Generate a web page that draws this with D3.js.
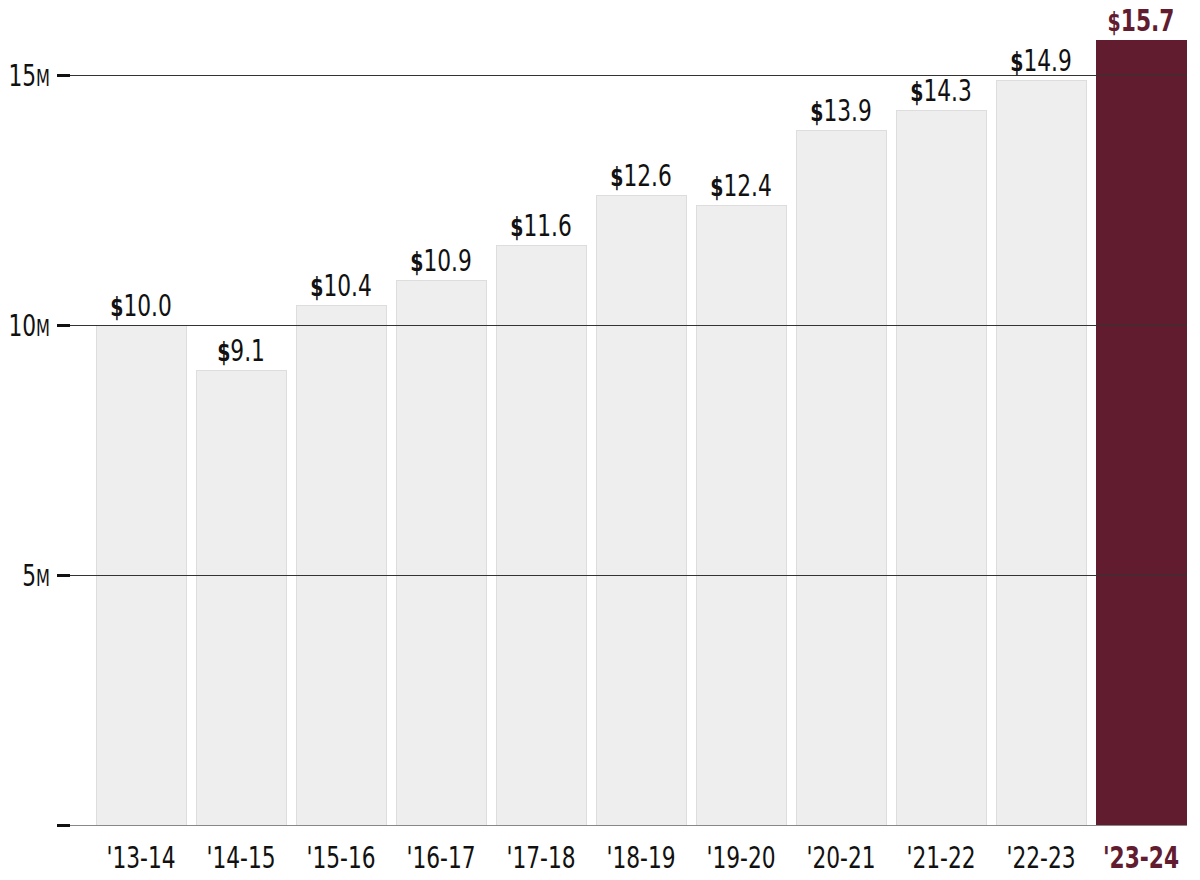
<!DOCTYPE html>
<html><head><meta charset="utf-8">
<script src="https://cdn.jsdelivr.net/npm/d3@7"></script>
<style>
html,body{margin:0;padding:0;background:#fff;}
text{font-family:"DejaVu Sans Condensed","Liberation Sans Narrow",sans-serif;}
</style></head>
<body>
<svg id="chart" width="1200" height="880"></svg>
<script>
const categories = ["'13-14","'14-15","'15-16","'16-17","'17-18","'18-19","'19-20","'20-21","'21-22","'22-23","'23-24"];
const values = [10.0, 9.1, 10.4, 10.9, 11.6, 12.6, 12.4, 13.9, 14.3, 14.9, 15.7];
const yTicks = [0, 5, 10, 15];
const yTickLabels = ["", "5", "10", "15"];
const highlightIndex = 10;

const svg = d3.select("#chart");
const maroon = "#621c30";
const sx = 0.78;
const x = d3.scaleBand().domain(categories).range([91, 1191]).paddingInner(0.1).paddingOuter(0.05);
const y = d3.scaleLinear().domain([0, 15]).range([825, 75]);

// bars
svg.append("g").selectAll("rect").data(values).join("rect")
  .attr("x", (d,i) => x(categories[i]))
  .attr("y", d => y(d))
  .attr("width", x.bandwidth())
  .attr("height", d => y(0) - y(d))
  .attr("fill", (d,i) => i === highlightIndex ? maroon : "#eeeeee")
  .attr("stroke", (d,i) => i === highlightIndex ? maroon : "#dddddd")
  .attr("stroke-width", 1)
  .attr("shape-rendering", "crispEdges");

// gridlines
const grid = svg.append("g");
grid.selectAll("line").data(yTicks).join("line")
  .attr("x1", 70).attr("x2", 1187)
  .attr("y1", d => Math.round(y(d)) + 0.5).attr("y2", d => Math.round(y(d)) + 0.5)
  .attr("stroke", d => d === 0 ? "#888" : "#333")
  .attr("stroke-width", 1);

// tick marks
grid.append("g").selectAll("rect").data(yTicks).join("rect")
  .attr("x", 57).attr("width", 13)
  .attr("y", d => Math.round(y(d)) - 1).attr("height", 3)
  .attr("fill", "#111");

// y labels
const yl = svg.append("g").selectAll("g").data(yTicks).join("g")
  .attr("transform", d => `translate(50,${y(d) + 11}) scale(${sx},1)`)
  .append("text")
  .attr("text-anchor", "end")
  .attr("fill", "#111")
  .attr("font-size", 31);
yl.each(function(d, i) {
  if (!yTickLabels[i]) return;
  const t = d3.select(this);
  t.append("tspan").text(yTickLabels[i]);
  t.append("tspan").attr("font-size", 23).text("M");
});

// value labels
const vl = svg.append("g").selectAll("g").data(values).join("g")
  .attr("transform", (d,i) => `translate(${x(categories[i]) + x.bandwidth()/2},${y(d) - 9}) scale(${sx},1)`)
  .append("text")
  .attr("text-anchor", "middle")
  .attr("fill", (d,i) => i === highlightIndex ? maroon : "#111")
  .attr("font-weight", (d,i) => i === highlightIndex ? "bold" : "normal")
  .attr("font-size", 31);
vl.each(function(d) {
  const t = d3.select(this);
  t.append("tspan").attr("font-weight", "bold").attr("font-size", 27).text("$");
  t.append("tspan").text(d.toFixed(1));
});

// x labels
svg.append("g").selectAll("g").data(categories).join("g")
  .attr("transform", d => `translate(${x(d) + x.bandwidth()/2},868) scale(${sx},1)`)
  .append("text")
  .attr("text-anchor", "middle")
  .attr("fill", (d,i) => i === highlightIndex ? maroon : "#111")
  .attr("font-weight", (d,i) => i === highlightIndex ? "bold" : "normal")
  .attr("font-size", 31)
  .text(d => d);
</script>
</body></html>
